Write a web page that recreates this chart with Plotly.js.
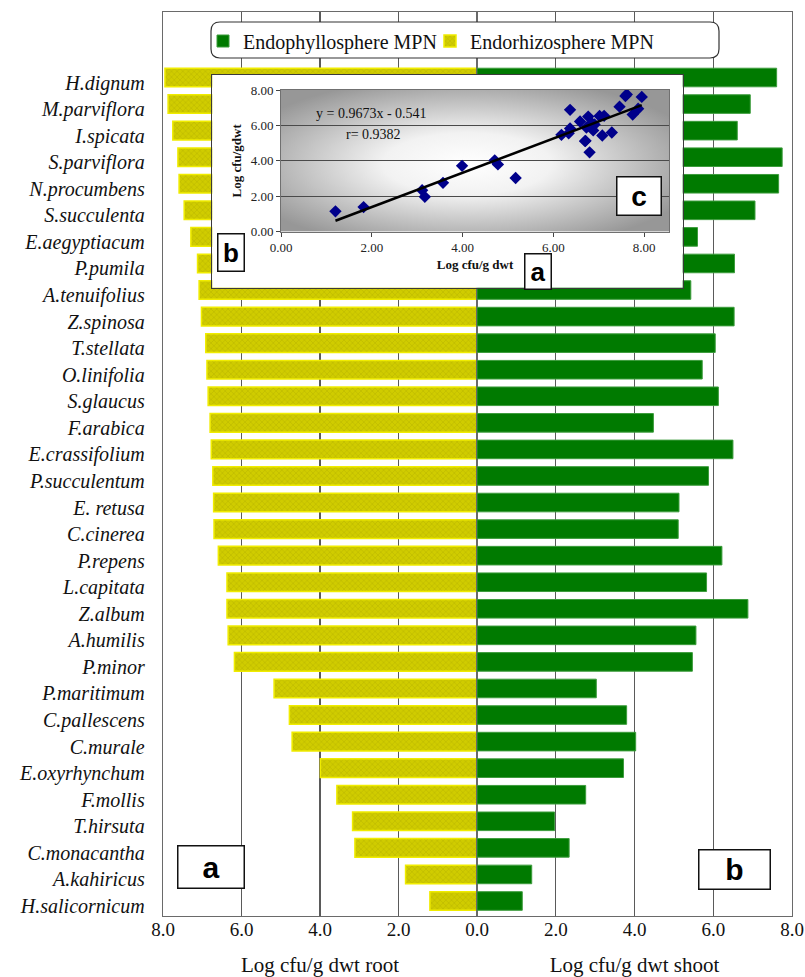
<!DOCTYPE html>
<html>
<head>
<meta charset="utf-8">
<script src="https://cdn.plot.ly/plotly-3.0.1.min.js"></script>
<style>
  html, body { margin: 0; padding: 0; background: #ffffff; }
  #chart { width: 805px; height: 977px; }
</style>
</head>
<body>
<div id="chart"></div>
<script>
// Halophyte species, top to bottom
const species = [
  "H.dignum", "M.parviflora", "I.spicata", "S.parviflora", "N.procumbens",
  "S.succulenta", "E.aegyptiacum", "P.pumila", "A.tenuifolius", "Z.spinosa",
  "T.stellata", "O.linifolia", "S.glaucus", "F.arabica", "E.crassifolium",
  "P.succulentum", "E. retusa", "C.cinerea", "P.repens", "L.capitata",
  "Z.album", "A.humilis", "P.minor", "P.maritimum", "C.pallescens",
  "C.murale", "E.oxyrhynchum", "F.mollis", "T.hirsuta", "C.monacantha",
  "A.kahiricus", "H.salicornicum"
];

// Endorhizosphere MPN (Log cfu/g dwt root)
const rootLog = [
  7.95, 7.87, 7.75, 7.62, 7.59,
  7.46, 7.29, 7.12, 7.08, 7.02,
  6.91, 6.88, 6.85, 6.80, 6.77,
  6.73, 6.71, 6.70, 6.59, 6.37,
  6.37, 6.34, 6.18, 5.17, 4.78,
  4.71, 3.99, 3.57, 3.17, 3.11,
  1.82, 1.20
];

// Endophyllosphere MPN (Log cfu/g dwt shoot)
const shootLog = [
  7.61, 6.94, 6.61, 7.75, 7.66,
  7.06, 5.60, 6.54, 5.43, 6.53,
  6.05, 5.72, 6.13, 4.48, 6.50,
  5.88, 5.13, 5.11, 6.22, 5.83,
  6.88, 5.56, 5.47, 3.03, 3.80,
  4.03, 3.72, 2.76, 1.97, 2.34,
  1.39, 1.15
];

// Linear fit of shoot on root, as printed on the inset
const fitSlope = 0.9673;
const fitIntercept = -0.541;
const fitR = 0.9382;

const mainTicksLeft = [8, 6, 4, 2, 0];
const mainTicksRight = [2, 4, 6, 8];
const insetTicks = [0, 2, 4, 6, 8];

// ---- page geometry (pixels) ----
const W = 805, H = 977;
const PL = 163, PR = 792, PT = 12, PB = 916;
const fx = px => (px - PL) / (PR - PL);
const fy = py => (PB - py) / (PB - PT);

const serif = "Liberation Serif, Times New Roman, serif";
const sans = "Liberation Sans, Arial, sans-serif";

// fit line across the observed root range
const xMin = Math.min(...rootLog), xMax = Math.max(...rootLog);
const fitX = [xMin, xMax];
const fitY = fitX.map(v => fitSlope * v + fitIntercept);

const traces = [
  {
    type: "bar", orientation: "h",
    name: "Endophyllosphere MPN",
    x: shootLog, y: species, xaxis: "x2", yaxis: "y",
    marker: { color: "#007a00", line: { color: "#3c9c3c", width: 1 } },
    hoverinfo: "skip"
  },
  {
    type: "bar", orientation: "h",
    name: "Endorhizosphere MPN",
    x: rootLog, y: species, xaxis: "x", yaxis: "y",
    marker: {
      color: "#d0cc00",
      line: { color: "#f0ec00", width: 1.5 },
      pattern: { shape: "x", fgcolor: "#a29e00", size: 4, solidity: 0.25, fillmode: "overlay" }
    },
    hoverinfo: "skip"
  },
  // white frame behind the inset
  { type: "scatter", x: [], y: [], xaxis: "x3", yaxis: "y3", showlegend: false, hoverinfo: "skip" },
  {
    type: "scatter", mode: "markers",
    x: rootLog, y: shootLog, xaxis: "x4", yaxis: "y4",
    marker: { symbol: "diamond", size: 9.5, color: "#00008b" },
    showlegend: false, hoverinfo: "skip"
  },
  {
    type: "scatter", mode: "lines",
    x: fitX, y: fitY, xaxis: "x4", yaxis: "y4",
    line: { color: "#000000", width: 2.5 },
    showlegend: false, hoverinfo: "skip"
  }
];

// radial grey fill of the inset plot area
const bgSvg =
  '<svg xmlns="http://www.w3.org/2000/svg" width="400" height="150" viewBox="0 0 400 150" preserveAspectRatio="none">' +
  '<defs><radialGradient id="g" cx="0.48" cy="0.52" r="0.62">' +
  '<stop offset="0" stop-color="#ffffff"/><stop offset="0.35" stop-color="#f2f2f2"/>' +
  '<stop offset="1" stop-color="#979797"/></radialGradient></defs>' +
  '<rect width="400" height="150" fill="url(#g)"/></svg>';

const gridCol = "#5a5a5a";
const lineCol = "#6a6a6a";

// rounded legend box in paper units
const lx0 = fx(211), lx1 = fx(719), ly0 = fy(58), ly1 = fy(22);
const rx = 9 / (PR - PL), ry = 9 / (PB - PT);
const legendPath =
  `M ${lx0 + rx},${ly0} L ${lx1 - rx},${ly0} Q ${lx1},${ly0} ${lx1},${ly0 + ry} ` +
  `L ${lx1},${ly1 - ry} Q ${lx1},${ly1} ${lx1 - rx},${ly1} L ${lx0 + rx},${ly1} ` +
  `Q ${lx0},${ly1} ${lx0},${ly1 - ry} L ${lx0},${ly0 + ry} Q ${lx0},${ly0} ${lx0 + rx},${ly0} Z`;

function tagBox(label, cx, cy, w, h, size) {
  return {
    xref: "paper", yref: "paper", x: fx(cx), y: fy(cy),
    xanchor: "center", yanchor: "middle", showarrow: false,
    text: "<b>" + label + "</b>",
    font: { family: sans, size: size, color: "#000" },
    width: w, height: h, borderpad: 0,
    bgcolor: "#ffffff", bordercolor: "#111111", borderwidth: 1.5
  };
}

const layout = {
  width: W, height: H,
  margin: { l: PL, r: W - PR, t: PT, b: H - PB, pad: 0 },
  paper_bgcolor: "#ffffff",
  plot_bgcolor: "#ffffff",
  font: { family: serif, color: "#111111" },
  showlegend: true,
  hovermode: false,
  bargap: 0.3,
  legend: {
    orientation: "h",
    x: fx(203), xanchor: "left",
    y: fy(41), yanchor: "middle",
    bgcolor: "rgba(0,0,0,0)", borderwidth: 0,
    font: { family: serif, size: 20, color: "#111" },
    traceorder: "normal",
    entrywidth: 182
  },
  xaxis: {
    domain: [0, fx(477)], anchor: "y",
    range: [8, 0], autorange: false,
    tickvals: mainTicksLeft, tickformat: ".1f",
    ticks: "", ticklabelstandoff: -4,
    showgrid: true, gridcolor: gridCol, gridwidth: 1.2,
    zeroline: false, showline: true, mirror: true, linecolor: lineCol, linewidth: 1.3,
    tickfont: { family: serif, size: 19, color: "#111" },
    title: { text: "Log cfu/g dwt root", font: { family: serif, size: 21, color: "#111" }, standoff: 18 }
  },
  xaxis2: {
    domain: [fx(477), 1], anchor: "y",
    range: [0, 8], autorange: false,
    tickvals: mainTicksRight, tickformat: ".1f",
    ticks: "", ticklabelstandoff: -4,
    showgrid: true, gridcolor: gridCol, gridwidth: 1.2,
    zeroline: false, showline: true, mirror: true, linecolor: lineCol, linewidth: 1.3,
    tickfont: { family: serif, size: 19, color: "#111" },
    title: { text: "Log cfu/g dwt shoot", font: { family: serif, size: 21, color: "#111" }, standoff: 18 }
  },
  yaxis: {
    domain: [0, 1], anchor: "x",
    type: "category", categoryorder: "array", categoryarray: species,
    range: [31.565, -2.466], autorange: false,
    showgrid: false, zeroline: false,
    showline: true, mirror: "all", linecolor: lineCol, linewidth: 1.3,
    ticks: "", ticklabelstandoff: 13, ticklabelshift: -5,
    tickfont: { family: serif, size: 20, style: "italic", color: "#111" }
  },
  xaxis3: {
    domain: [fx(212.3), fx(682.7)], anchor: "y3", range: [0, 1],
    showgrid: false, zeroline: false, showticklabels: false, ticks: "",
    showline: true, mirror: true, linecolor: "#3a3a3a", linewidth: 1.4
  },
  yaxis3: {
    domain: [fy(287.7), fy(75)], anchor: "x3", range: [0, 1],
    showgrid: false, zeroline: false, showticklabels: false, ticks: "",
    showline: true, mirror: true, linecolor: "#3a3a3a", linewidth: 1.4
  },
  xaxis4: {
    domain: [fx(281), fx(669)], anchor: "y4",
    range: [0, 8.55], autorange: false,
    tickvals: insetTicks, tickformat: ".2f",
    ticks: "outside", ticklen: 4, tickcolor: "#444",
    showgrid: false, zeroline: false,
    showline: true, mirror: true, linecolor: "#707070", linewidth: 1,
    tickfont: { family: serif, size: 13, color: "#222" },
    title: { text: "<b>Log cfu/g dwt</b>", font: { family: serif, size: 13, color: "#111" }, standoff: 5 }
  },
  yaxis4: {
    domain: [fy(231.7), fy(90)], anchor: "x4",
    range: [0, 8], autorange: false,
    tickvals: insetTicks, tickformat: ".2f",
    ticks: "outside", ticklen: 4, tickcolor: "#444",
    showgrid: true, gridcolor: "#4a4a4a", gridwidth: 1,
    zeroline: false, showline: true, mirror: true, linecolor: "#707070", linewidth: 1,
    tickfont: { family: serif, size: 13, color: "#222" },
    title: { text: "<b>Log cfu/gdwt</b>", font: { family: serif, size: 13, color: "#111" }, standoff: 6 }
  },
  images: [{
    source: "data:image/svg+xml;charset=utf-8," + encodeURIComponent(bgSvg),
    xref: "x4", yref: "y4", x: 0, y: 8, sizex: 8.55, sizey: 8,
    xanchor: "left", yanchor: "top", sizing: "stretch", layer: "below"
  }],
  shapes: [{
    type: "path", xref: "paper", yref: "paper", layer: "above",
    path: legendPath, fillcolor: "#ffffff",
    line: { color: "#333333", width: 1.2 }
  }],
  annotations: [
    {
      xref: "x4", yref: "y4", x: 2.0, y: 6.68, showarrow: false,
      xanchor: "center", yanchor: "middle",
      text: "y = " + fitSlope + "x - " + Math.abs(fitIntercept),
      font: { family: serif, size: 14, color: "#111" }
    },
    {
      xref: "x4", yref: "y4", x: 2.03, y: 5.5, showarrow: false,
      xanchor: "center", yanchor: "middle",
      text: "r= " + fitR,
      font: { family: serif, size: 14, color: "#111" }
    },
    tagBox("a", 210.5, 867, 65, 41, 30),
    tagBox("b", 734.3, 869, 70, 38, 30),
    tagBox("c", 638.7, 195.8, 43, 37, 28),
    tagBox("b", 231, 252.8, 25, 36, 26),
    tagBox("a", 537.5, 271.3, 25, 34, 26)
  ]
};

Plotly.newPlot("chart", traces, layout, { displayModeBar: false, staticPlot: true });
</script>
</body>
</html>
